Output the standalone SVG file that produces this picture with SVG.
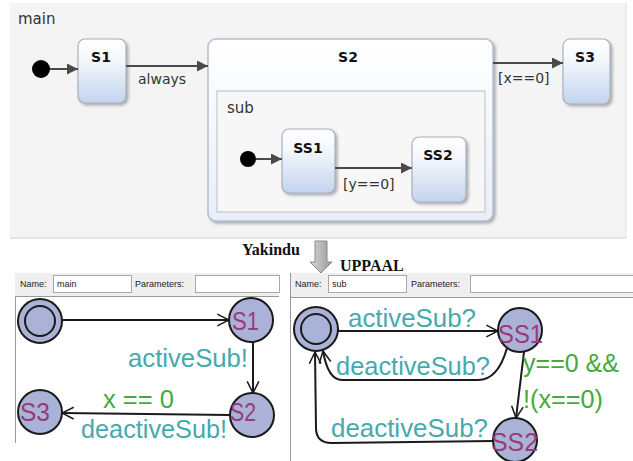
<svg xmlns="http://www.w3.org/2000/svg" width="633" height="461" viewBox="0 0 633 461">
<defs>
<linearGradient id="boxg" x1="0" y1="0" x2="0" y2="1">
<stop offset="0" stop-color="#ffffff"/>
<stop offset="0.35" stop-color="#f2f6fc"/>
<stop offset="1" stop-color="#c3d4ee"/>
</linearGradient>
<linearGradient id="bigg" x1="0" y1="0" x2="0" y2="1">
<stop offset="0" stop-color="#ffffff"/>
<stop offset="1" stop-color="#e8eef8"/>
</linearGradient>
<linearGradient id="arrg" x1="0" y1="0" x2="1" y2="0">
<stop offset="0" stop-color="#d8d8d8"/>
<stop offset="0.5" stop-color="#b8b8b8"/>
<stop offset="1" stop-color="#9a9a9a"/>
</linearGradient>
<filter id="sh" x="-20%" y="-20%" width="150%" height="150%">
<feDropShadow dx="2" dy="2" stdDeviation="1.5" flood-color="#707070" flood-opacity="0.55"/>
</filter>
<marker id="fa" viewBox="0 0 10 10" refX="10" refY="5" markerWidth="5.5" markerHeight="5.5" orient="auto" markerUnits="strokeWidth">
<path d="M0,0 L10,5 L0,10 Z" fill="#4a4a4a"/>
</marker>
<marker id="oa" viewBox="0 0 12 12" refX="11" refY="6" markerWidth="7" markerHeight="7" orient="auto" markerUnits="strokeWidth">
<path d="M1,1 L11,6 L1,11" fill="none" stroke="#1a1a1a" stroke-width="1.3"/>
</marker>
</defs>
<style>
.ybox{fill:url(#boxg);stroke:#a9b1bd;stroke-width:1.2;filter:url(#sh)}
.ytitle{font-family:"DejaVu Sans",Verdana,sans-serif;font-weight:bold;font-size:14px;fill:#111}
.ylab{font-family:"DejaVu Sans",Verdana,sans-serif;font-size:14px;fill:#333}
.ycon{stroke:#4a4a4a;stroke-width:2;fill:none;marker-end:url(#fa)}
.dot{fill:#000}
.ser{font-family:"Liberation Serif","Times New Roman",serif;font-weight:bold;font-size:16px;fill:#111}
.hdr{fill:#efefef}
.hlab{font-family:"Liberation Sans",Arial,sans-serif;font-size:9px;fill:#222}
.inp{fill:#fff;stroke:#a8a8a8;stroke-width:1}
.loc{fill:#aab3d7;stroke:#1a1a1a;stroke-width:2}
.lname{font-family:"Liberation Sans",Arial,sans-serif;font-size:26px;fill:#9a3a78}
.sync{font-family:"Liberation Sans",Arial,sans-serif;font-size:25px;fill:#46a9ad}
.guard{font-family:"Liberation Sans",Arial,sans-serif;font-size:25px;fill:#44aa3a}
.ucon{stroke:#1a1a1a;stroke-width:2;fill:none;marker-end:url(#oa)}
.frame{stroke:#9a9a9a;stroke-width:1;fill:none}
</style>
<rect width="633" height="461" fill="#ffffff"/>

<!-- Yakindu top panel -->
<g id="main-region">
<rect x="10" y="3" width="616" height="235" fill="#f4f4f4"/>
<line x1="10" y1="238" x2="626" y2="238" stroke="#d0d0d0" stroke-width="1"/>
<line x1="626" y1="3" x2="626" y2="238" stroke="#e0e0e0" stroke-width="1"/>
<text x="18" y="24" font-family="'DejaVu Sans',Verdana,sans-serif" font-size="15" fill="#333">main</text>
</g>

<g id="y-init-main"><circle class="dot" cx="41" cy="69" r="9"/></g>
<g id="y-S1">
<rect class="ybox" x="78" y="39" width="48" height="64" rx="7"/>
<text class="ytitle" x="101" y="62" text-anchor="middle">S1</text>
</g>
<g id="y-S2">
<rect x="208" y="39" width="285" height="182" rx="8" fill="url(#bigg)" stroke="#b4bfcf" stroke-width="1.5" filter="url(#sh)"/>
<text class="ytitle" x="348" y="62" text-anchor="middle">S2</text>
<rect x="217" y="91" width="268" height="121" fill="#f7f7f7" stroke="#c4c8ce" stroke-width="1.2"/>
<text x="227" y="113" font-family="'DejaVu Sans',Verdana,sans-serif" font-size="15" fill="#333">sub</text>
</g>
<g id="y-init-sub"><circle class="dot" cx="248" cy="159" r="8"/></g>
<g id="y-SS1">
<rect class="ybox" x="282" y="129" width="53" height="64" rx="7"/>
<text class="ytitle" x="308" y="153" text-anchor="middle">SS1</text>
</g>
<g id="y-SS2">
<rect class="ybox" x="412" y="137" width="54" height="65" rx="7"/>
<text class="ytitle" x="438" y="160" text-anchor="middle">SS2</text>
</g>
<g id="y-S3">
<rect class="ybox" x="563" y="39" width="47" height="65" rx="7"/>
<text class="ytitle" x="585" y="62" text-anchor="middle">S3</text>
</g>

<g id="y-connectors">
<line class="ycon" x1="50" y1="69" x2="78" y2="69"/>
<line class="ycon" x1="126" y1="66" x2="208" y2="66"/>
<line class="ycon" x1="256" y1="159" x2="282" y2="159"/>
<line class="ycon" x1="335" y1="168" x2="412" y2="168"/>
<line class="ycon" x1="493" y1="63" x2="563" y2="63"/>
<text class="ylab" x="138" y="84">always</text>
<text class="ylab" x="343" y="189">[y==0]</text>
<text class="ylab" x="498" y="83">[x==0]</text>
</g>

<!-- transformation arrow -->
<g id="transform">
<text class="ser" x="242" y="255">Yakindu</text>
<path d="M315,241 L327,241 L327,262 L332,262 L321,273 L310,262 L315,262 Z" fill="url(#arrg)" stroke="#8a8a8a" stroke-width="1"/>
<text class="ser" x="340" y="271">UPPAAL</text>
</g>

<!-- UPPAAL left panel -->
<g id="u-main-panel">
<rect class="hdr" x="15" y="273" width="264" height="23"/>
<text class="hlab" x="20" y="287">Name:</text>
<rect class="inp" x="53.5" y="275.5" width="78" height="17"/>
<text class="hlab" x="57" y="287">main</text>
<text class="hlab" x="135" y="287">Parameters:</text>
<rect class="inp" x="195.5" y="275.5" width="84" height="17"/>
<line class="frame" x1="15.5" y1="296.5" x2="279" y2="296.5"/>
<line class="frame" x1="15.5" y1="296.5" x2="15.5" y2="443"/>
</g>

<g id="u-main-init">
<circle class="loc" cx="40" cy="321" r="22"/>
<circle cx="40" cy="321" r="15" fill="none" stroke="#1a1a1a" stroke-width="2"/>
</g>
<g id="u-S1">
<circle class="loc" cx="251" cy="320" r="22"/>
<text class="lname" x="232" y="330" textLength="27" lengthAdjust="spacingAndGlyphs">S1</text>
</g>
<g id="u-S2">
<circle class="loc" cx="252" cy="415" r="22"/>
<text class="lname" x="230" y="421" textLength="26" lengthAdjust="spacingAndGlyphs">S2</text>
</g>
<g id="u-S3">
<circle class="loc" cx="40" cy="412" r="22"/>
<text class="lname" x="20" y="421" textLength="30" lengthAdjust="spacingAndGlyphs">S3</text>
</g>

<!-- UPPAAL right panel -->
<g id="u-sub-panel">
<rect class="hdr" x="290" y="273" width="343" height="24"/>
<text class="hlab" x="295" y="287">Name:</text>
<rect class="inp" x="328.5" y="275.5" width="78" height="17"/>
<text class="hlab" x="332" y="287">sub</text>
<text class="hlab" x="411" y="287">Parameters:</text>
<rect class="inp" x="470.5" y="275.5" width="170" height="17"/>
<line class="frame" x1="290.5" y1="297.5" x2="633" y2="297.5"/>
<line class="frame" x1="290.5" y1="273" x2="290.5" y2="461"/>
</g>

<g id="u-sub-init">
<circle class="loc" cx="316" cy="329" r="22"/>
<circle cx="316" cy="329" r="15" fill="none" stroke="#1a1a1a" stroke-width="2"/>
</g>
<g id="u-SS1">
<circle class="loc" cx="520" cy="330" r="22"/>
<text class="lname" x="498" y="343" textLength="45" lengthAdjust="spacingAndGlyphs">SS1</text>
</g>
<g id="u-SS2">
<circle class="loc" cx="515" cy="440" r="22"/>
<text class="lname" x="491" y="451" textLength="47" lengthAdjust="spacingAndGlyphs">SS2</text>
</g>

<g id="u-connectors">
<line class="ucon" x1="62" y1="320" x2="229" y2="320"/>
<line class="ucon" x1="253" y1="342" x2="253" y2="393"/>
<line class="ucon" x1="230" y1="415" x2="62" y2="413"/>
<text class="sync" x="128" y="367" textLength="120" lengthAdjust="spacingAndGlyphs">activeSub!</text>
<text class="guard" x="103" y="408" textLength="71" lengthAdjust="spacingAndGlyphs">x == 0</text>
<text class="sync" x="81" y="438" textLength="146" lengthAdjust="spacingAndGlyphs">deactiveSub!</text>

<line class="ucon" x1="338" y1="331" x2="498" y2="331"/>
<path class="ucon" d="M507,348 Q498,380 478,380 L342,380 Q328,380 323,351"/>
<line class="ucon" x1="524" y1="352" x2="516" y2="418"/>
<path class="ucon" d="M493,441 L332,443 Q316,443 316,428 L315,352"/>
<text class="sync" x="348" y="327" textLength="128" lengthAdjust="spacingAndGlyphs">activeSub?</text>
<text class="sync" x="336" y="375" textLength="154" lengthAdjust="spacingAndGlyphs">deactiveSub?</text>
<text class="guard" x="523" y="372" textLength="96" lengthAdjust="spacingAndGlyphs">y==0 &amp;&amp;</text>
<text class="guard" x="523" y="408" textLength="80" lengthAdjust="spacingAndGlyphs">!(x==0)</text>
<text class="sync" x="331" y="437" textLength="157" lengthAdjust="spacingAndGlyphs">deactiveSub?</text>
</g>
</svg>
